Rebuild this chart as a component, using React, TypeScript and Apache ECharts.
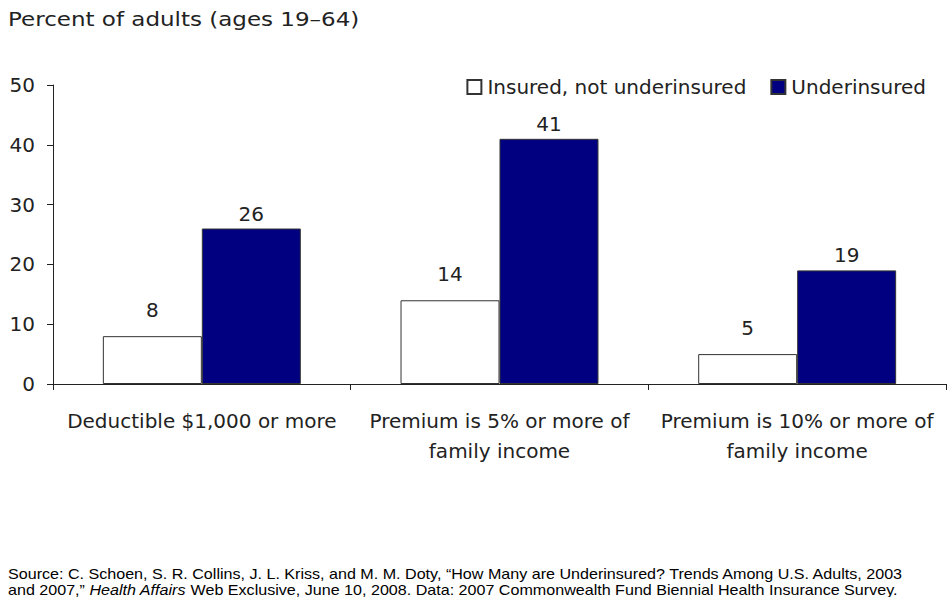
import React, { useEffect, useRef } from "react";
import * as echarts from "echarts";

const categories = [
  "Deductible $1,000 or more",
  "Premium is 5% or more of\nfamily income",
  "Premium is 10% or more of\nfamily income",
];
const insuredNotUnder = [8, 14, 5];
const underinsured = [26, 41, 19];
const seriesNames = ["Insured, not underinsured", "Underinsured"];
const yTicks = { min: 0, max: 50, interval: 10 };
const titleText = "Percent of adults (ages 19–64)";

const FONT = "DejaVu Sans";

export default function App() {
  const ref = useRef<HTMLDivElement>(null);
  useEffect(() => {
    document.body.style.margin = "0";
    const chart = echarts.init(ref.current!, null, { renderer: "svg" });
    chart.setOption({
      animation: false,
      backgroundColor: "#ffffff",
      textStyle: { fontFamily: FONT },
      grid: { left: 53, right: 1, top: 85, bottom: 213 },
      legend: {
        right: 16,
        top: 72,
        itemWidth: 14,
        itemHeight: 14,
        itemGap: 24,
        icon: "rect",
        textStyle: { fontFamily: FONT, fontSize: 20, color: "#222", padding: [0, 0, 0, 1] },
        data: seriesNames,
      },
      xAxis: {
        type: "category",
        data: categories,
        axisLine: { lineStyle: { color: "#222", width: 1 } },
        axisTick: { show: true, alignWithLabel: false, length: 6, lineStyle: { color: "#222" } },
        axisLabel: {
          interval: 0,
          margin: 22,
          fontFamily: FONT,
          fontSize: 20,
          lineHeight: 30,
          color: "#222",
        },
      },
      yAxis: {
        type: "value",
        min: yTicks.min,
        max: yTicks.max,
        interval: yTicks.interval,
        splitLine: { show: false },
        axisLine: { show: true, lineStyle: { color: "#222", width: 1 } },
        axisTick: { show: true, length: 6, lineStyle: { color: "#222" } },
        axisLabel: { fontFamily: FONT, fontSize: 20, color: "#222", margin: 18 },
      },
      series: [
        {
          name: seriesNames[0],
          type: "bar",
          data: insuredNotUnder,
          barGap: "0%",
          barCategoryGap: "33.5%",
          itemStyle: { color: "#ffffff", borderColor: "#333", borderWidth: 1 },
          label: {
            show: true,
            position: "top",
            distance: 16,
            fontFamily: FONT,
            fontSize: 20,
            color: "#222",
          },
        },
        {
          name: seriesNames[1],
          type: "bar",
          data: underinsured,
          barGap: "0%",
          barCategoryGap: "33.5%",
          itemStyle: { color: "#000080", borderColor: "#333", borderWidth: 1 },
          label: {
            show: true,
            position: "top",
            distance: 5,
            fontFamily: FONT,
            fontSize: 20,
            color: "#222",
          },
        },
      ],
      graphic: [
        {
          type: "text",
          x: 8,
          y: 9,
          scaleX: 1.15,
          style: { text: titleText, font: `20px "${FONT}"`, fill: "#222" },
        },
        {
          type: "text",
          x: 8,
          y: 566,
          scaleX: 1.15,
          style: {
            text: "{n|Source: C. Schoen, S. R. Collins, J. L. Kriss, and M. M. Doty, “How Many are Underinsured? Trends Among U.S. Adults, 2003}\n{n|and 2007,” }{i|Health Affairs}{n| Web Exclusive, June 10, 2008. Data: 2007 Commonwealth Fund Biennial Health Insurance Survey.}",
            rich: {
              n: { fontFamily: "Liberation Sans", fontSize: 14, lineHeight: 16, fill: "#000" },
              i: { fontFamily: "Liberation Sans", fontSize: 14, fontStyle: "italic", lineHeight: 16, fill: "#000" },
            },
          },
        },
      ],
    });
    return () => chart.dispose();
  }, []);
  return <div ref={ref} style={{ width: 947, height: 597 }} />;
}
